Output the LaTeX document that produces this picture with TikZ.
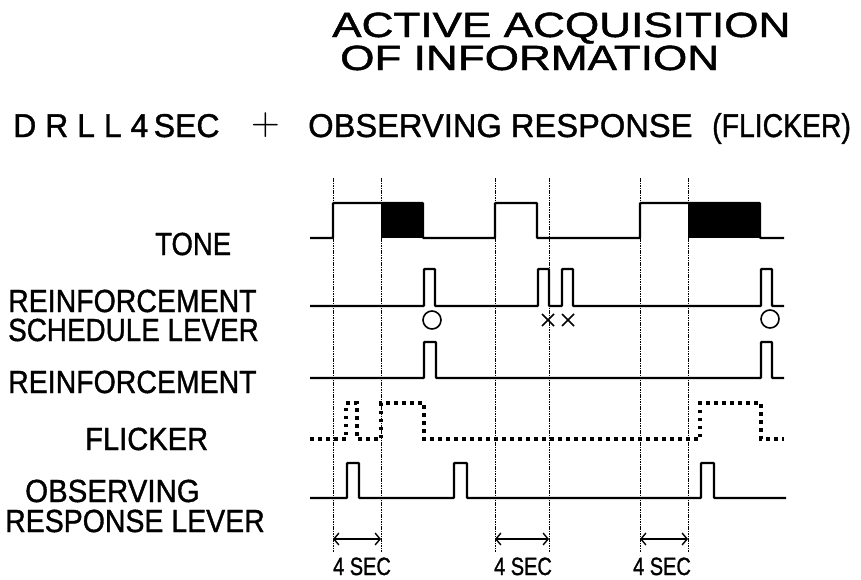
\documentclass[tikz,border=0pt]{standalone}
\usepackage{fontspec}
\setmainfont{Liberation Sans}
\newfontfamily\heavyfont[FakeBold=1.2]{Liberation Sans}
\usetikzlibrary{arrows.meta}
\newcommand\sx[2]{\scalebox{#1}[1]{#2}}
\newcommand\labfont{\heavyfont\fontsize{32}{34}\selectfont}
\begin{document}
\begin{tikzpicture}[x=1pt,y=-1pt,
  sig/.style={line width=2.4pt, rounded corners=0.8pt},
  flick/.style={line width=3.2pt, dash pattern=on 3.5pt off 4.5pt},
  gridline/.style={line width=0.8pt, dash pattern=on 1.6pt off 0.8pt},
  txt/.style={inner sep=0pt, anchor=base west, text height=0.72em, text depth=0pt},
  ctxt/.style={inner sep=0pt, anchor=base, text height=0.72em, text depth=0pt},
  dimarrow/.style={line width=1.4pt, {Straight Barb[length=5pt,width=12pt]}-{Straight Barb[length=5pt,width=12pt]}},
  symb/.style={line width=1.6pt}
]
\useasboundingbox (0,0) rectangle (861,579);

% titles
\node[txt] (t1) at (332,37) {\heavyfont\fontsize{35}{38}\selectfont\sx{1.26}{ACTIVE ACQUISITION}};
\node[txt] (t2) at (340,70) {\heavyfont\fontsize{35}{38}\selectfont\sx{1.26}{OF INFORMATION}};
\node[txt] (h1) at (13,137) {\heavyfont\fontsize{33}{36}\selectfont\sx{0.97}{D R L L 4\,SEC}};
\node[inner sep=0pt] (hplus) at (265.5,125) {\fontsize{10}{12}\selectfont\scalebox{3.75}{$+$}};
\node[txt] (h2) at (308,137) {\heavyfont\fontsize{33}{36}\selectfont\sx{0.99}{OBSERVING RESPONSE}};
\node[txt] (h3) at (712,137) {\heavyfont\fontsize{33}{36}\selectfont\sx{0.86}{(FLICKER)}};

% row labels
\node[txt] (lt) at (155,255) {\labfont\sx{0.86}{TONE}};
\node[txt] (lr1) at (8,312) {\labfont\sx{0.89}{REINFORCEMENT}};
\node[txt] (lr2) at (8,341) {\labfont\sx{0.87}{SCHEDULE LEVER}};
\node[txt] (lr) at (8,393) {\labfont\sx{0.89}{REINFORCEMENT}};
\node[txt] (lf) at (85,450) {\labfont\sx{0.91}{FLICKER}};
\node[txt] (lo1) at (25,502) {\labfont\sx{0.92}{OBSERVING}};
\node[txt] (lo2) at (5,532) {\labfont\sx{0.89}{RESPONSE LEVER}};

% vertical dotted lines
\foreach \i/\x in {1/333,2/381,3/495,4/549,5/640,6/688}{
  \coordinate (v\i t) at (\x,178);
  \coordinate (v\i b) at (\x,552);
  \coordinate (v\i a) at (\x,539);
  \draw[gridline] (v\i t) -- (v\i b);
}

% tone
\fill (381,203) rectangle (423,238);
\fill (688,203) rectangle (760,238);
\draw[sig] (310,238) -- (333,238) -- (333,203) -- (423,203) -- (423,238) -- (495,238) -- (495,203) -- (537,203) -- (537,238) -- (640,238) -- (640,203) -- (760,203) -- (760,238) -- (784,238);

% reinforcement schedule lever
\draw[sig] (310,306) -- (424,306) -- (424,269) -- (435,269) -- (435,306) -- (538,306) -- (538,269) -- (549,269) -- (549,306) -- (562,306) -- (562,269) -- (573,269) -- (573,306) -- (761,306) -- (761,269) -- (772,269) -- (772,306) -- (784,306);
\draw[symb] (432,320) circle (9);
\draw[symb] (770,319) circle (9);
\draw[symb] (542,314) -- (554,326) (542,326) -- (554,314);
\draw[symb] (562,314) -- (574,326) (562,326) -- (574,314);

% reinforcement
\draw[sig] (310,378) -- (424,378) -- (424,342) -- (436,342) -- (436,378) -- (761,378) -- (761,342) -- (772,342) -- (772,378) -- (784,378);

% flicker
\draw[flick] (310,439) -- (346,439) -- (346,403) -- (357,403) -- (357,439) -- (381,439) -- (381,403) -- (424,403) -- (424,439) -- (700,439) -- (700,403) -- (761,403) -- (761,439) -- (784,439);

% observing response lever
\draw[sig] (310,498) -- (347,498) -- (347,463) -- (359,463) -- (359,498) -- (454,498) -- (454,463) -- (467,463) -- (467,498) -- (701,498) -- (701,463) -- (714,463) -- (714,498) -- (786,498);

% 4 SEC intervals
\draw[dimarrow] (v1a) -- (v2a);
\draw[dimarrow] (v3a) -- (v4a);
\draw[dimarrow] (v5a) -- (v6a);
\node[ctxt] (s1) at (362,575) {\heavyfont\fontsize{25}{28}\selectfont\sx{0.8}{4 SEC}};
\node[ctxt] (s2) at (523,575) {\heavyfont\fontsize{25}{28}\selectfont\sx{0.8}{4 SEC}};
\node[ctxt] (s3) at (662,575) {\heavyfont\fontsize{25}{28}\selectfont\sx{0.8}{4 SEC}};
\end{tikzpicture}
\end{document}
